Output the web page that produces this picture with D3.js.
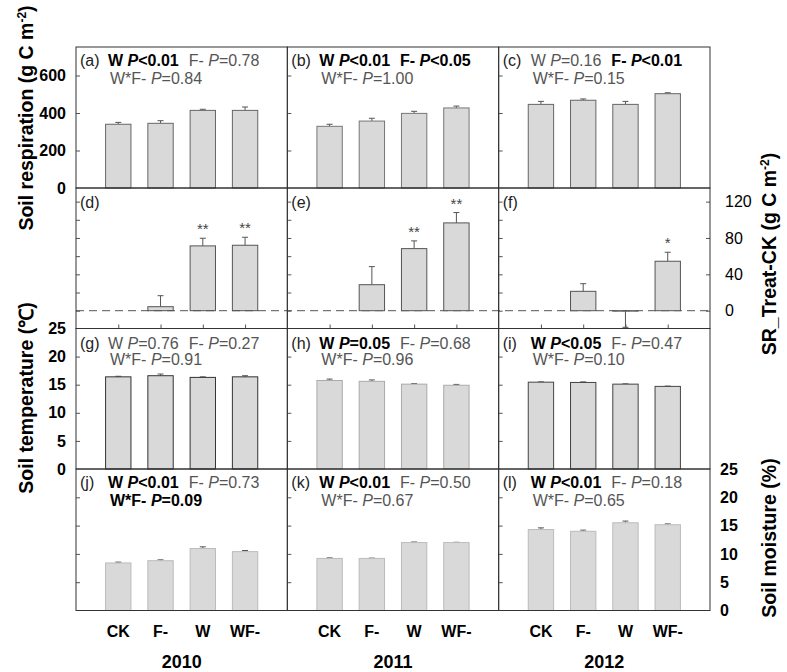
<!DOCTYPE html>
<html><head><meta charset="utf-8">
<script src="https://cdn.jsdelivr.net/npm/d3@7"></script>
<style>
body{margin:0;background:#fff;}
text{font-family:Arial,"Liberation Sans",sans-serif;}
</style></head>
<body><svg id="c" width="787" height="672"></svg>
<script>
const categories = ["CK","F-","W","WF-"];
const years = ["2010","2011","2012"];
const panelLetters = [["(a)","(b)","(c)"],["(d)","(e)","(f)"],["(g)","(h)","(i)"],["(j)","(k)","(l)"]];
const factorNames = ["W","F-","W*F-"];

// Soil respiration (g C m-2)
const srMean = [[340,345,414,414],[329,357,398,427],[446,468,446,503]];
const srErr  = [[10,14,6,18],[11,15,11,10],[16,7,16,5]];
const srStats = [["<0.01","=0.78","=0.84"],["<0.01","<0.05","=1.00"],["=0.16","<0.01","=0.15"]];
const srBold  = [[true,false,false],[true,true,false],[false,true,false]];
const srTicks = [0,200,400,600];

// SR_Treat-CK (g C m-2)
const diffMean = [[null,4.4,71.3,72],[null,28.6,68.3,96.6],[null,21.3,-0.5,54.4]];
const diffErr  = [[null,12.1,8.4,8.8],[null,19.9,8.5,11.4],[null,8.4,17.8,9.9]];
const diffSig  = [["","","**","**"],["","","**","**"],["","","","*"]];
const diffTicks = [0,40,80,120];
const diffMinorTicks = [-20,0,20,40,60,80,100,120];

// Soil temperature (°C)
const tempMean = [[16.4,16.6,16.3,16.4],[15.75,15.6,15.1,14.9],[15.45,15.4,15.1,14.7]];
const tempErr  = [[0.1,0.3,0.1,0.2],[0.25,0.25,0.1,0.15],[0.05,0.1,0.05,0.05]];
const tempStats = [["=0.76","=0.27","=0.91"],["=0.05","=0.68","=0.96"],["<0.05","=0.47","=0.10"]];
const tempBold  = [[false,false,false],[true,false,false],[true,false,false]];
const tempTicks = [0,5,10,15,20,25];

// Soil moisture (%)
const moistMean = [[8.4,8.8,10.95,10.4],[9.2,9.2,12.0,12.0],[14.3,14.0,15.5,15.15]];
const moistErr  = [[0.15,0.15,0.3,0.2],[0.1,0.05,0.1,0.05],[0.3,0.2,0.3,0.15]];
const moistStats = [["<0.01","=0.73","=0.09"],["<0.01","=0.50","=0.67"],["<0.01","=0.18","=0.65"]];
const moistBold  = [[true,false,true],[true,false,false],[true,false,false]];
const moistTicks = [0,5,10,15,20,25];

// ---- layout ----
const svg = d3.select("#c");
const L = 76, R = 710;
const rowY = [47, 188, 328.5, 469, 610.5];
const colW = (R - L) / 3;
const colX = [0,1,2].map(i => L + i*colW);

const rowDefs = [
  {mean: srMean, err: srErr, domain:[0,752], ticks: srTicks, stats: srStats, bold: srBold},
  {mean: diffMean, err: diffErr, domain:[-19.6,135], ticks: diffMinorTicks, sig: diffSig},
  {mean: tempMean, err: tempErr, domain:[0,25], ticks: tempTicks, stats: tempStats, bold: tempBold},
  {mean: moistMean, err: moistErr, domain:[0,25], ticks: moistTicks, stats: moistStats, bold: moistBold}
];
const strokes = [["#666","#777","#666"],["#555","#555","#555"],["#333","#aaa","#444"],["#bbb","#bbb","#bbb"]];
const line1Off = [18.5, 20, 20, 18.5];

const yScales = rowDefs.map((d,r) => d3.scaleLinear().domain(d.domain).range([rowY[r+1], rowY[r]]));
const xScales = colX.map(x0 => d3.scalePoint().domain(categories).range([x0 + colW/5, x0 + 4*colW/5]));
const barW = 0.6 * colW / 5;

rowDefs.forEach((def, r) => {
  const y = yScales[r];
  for (let c = 0; c < 3; c++) {
    const x = xScales[c];
    const x0 = colX[c];
    const g = svg.append("g");
    const ax = g.append("g").attr("transform", `translate(${x0},0)`)
      .call(d3.axisRight(y).tickValues(def.ticks.filter(t => t > def.domain[0] && t < def.domain[1])).tickSize(4).tickFormat(""));
    ax.select(".domain").remove();
    ax.selectAll("line").attr("stroke","#555");

    if (r === 1 && c === 0) {
      svg.append("line").attr("x1", L).attr("x2", R).attr("y1", y(0)).attr("y2", y(0))
        .attr("stroke","#555").attr("stroke-width",1).attr("stroke-dasharray","8,5");
    }

    const data = categories.map((cat,i) => ({cat, v: def.mean[c][i], e: def.err[c][i], s: def.sig ? def.sig[c][i] : ""}))
      .filter(d => d.v !== null);
    data.forEach(d => {
      const end = d.v >= 0 ? d.v + d.e : d.v - d.e;
      const cx = x(d.cat);
      g.append("line").attr("x1",cx).attr("x2",cx).attr("y1",y(d.v)).attr("y2",y(end)).attr("stroke","#555");
      g.append("line").attr("x1",cx-3).attr("x2",cx+3).attr("y1",y(end)).attr("y2",y(end)).attr("stroke","#555");
      if (d.s) {
        g.append("text").attr("x",cx).attr("y",y(end)-4).attr("text-anchor","middle")
          .attr("font-size",15).attr("fill","#444").text(d.s);
      }
    });
    g.selectAll("rect.bar").data(data).join("rect").attr("class","bar")
      .attr("x", d => x(d.cat) - barW/2)
      .attr("width", barW)
      .attr("y", d => Math.min(y(d.v), y(0)))
      .attr("height", d => Math.abs(y(d.v) - y(0)))
      .attr("fill","#d9d9d9").attr("stroke", strokes[r][c]).attr("stroke-width",1);

    const t = g.append("text").attr("x", x0 + 4).attr("y", rowY[r] + line1Off[r]).attr("font-size",16);
    t.append("tspan").attr("fill","#222").text(panelLetters[r][c]);
    if (def.stats) {
      const addStat = (sel, k, first) => {
        const b = def.bold[c][k];
        const col = b ? "#000" : "#555";
        const fw = b ? "bold" : "normal";
        const s1 = sel.append("tspan").attr("fill",col).attr("font-weight",fw).text(factorNames[k] + " ");
        if (first === "abs") s1.attr("x", x0 + 32);
        else if (first === "gap") s1.attr("dx", 10);
        sel.append("tspan").attr("fill",col).attr("font-weight",fw).attr("font-style","italic").text("P");
        sel.append("tspan").attr("fill",col).attr("font-weight",fw).text(def.stats[c][k]);
      };
      addStat(t, 0, "abs");
      addStat(t, 1, "gap");
      const t2 = g.append("text").attr("x", x0 + 34).attr("y", rowY[r] + 36.5).attr("font-size",16);
      addStat(t2, 2, "none");
    }
  }
});

xScales.forEach(x => {
  const a = svg.append("g").attr("transform",`translate(0,${rowY[2]})`).call(d3.axisTop(x).tickSize(4).tickFormat(""));
  a.select(".domain").remove();
  a.selectAll("line").attr("stroke","#555");
});
{
  const a = svg.append("g").attr("transform",`translate(${R},0)`).call(d3.axisLeft(yScales[1]).tickValues(diffTicks).tickSize(4).tickFormat(""));
  a.select(".domain").remove(); a.selectAll("line").attr("stroke","#555");
}

for (let r = 0; r < 4; r++) for (let c = 0; c < 3; c++) {
  svg.append("rect").attr("x", colX[c]).attr("y", rowY[r]).attr("width", colW).attr("height", rowY[r+1]-rowY[r])
    .attr("fill","none").attr("stroke","#333").attr("stroke-width",1);
}

[[0, srTicks],[2, tempTicks]].forEach(([r, ticks]) => {
  const a = svg.append("g").attr("transform",`translate(${L},0)`)
    .call(d3.axisLeft(yScales[r]).tickValues(ticks).tickSize(0).tickPadding(10));
  a.select(".domain").remove();
  a.selectAll("text").attr("font-size",16).attr("font-weight","bold").attr("fill","#000")
    .attr("font-family","Arial, 'Liberation Sans', sans-serif");
});
[[1, diffTicks, 15, "normal"],[3, moistTicks, 10, "bold"]].forEach(([r, ticks, pad, fw]) => {
  const a = svg.append("g").attr("transform",`translate(${R},0)`)
    .call(d3.axisRight(yScales[r]).tickValues(ticks).tickSize(0).tickPadding(pad));
  a.select(".domain").remove();
  a.selectAll("text").attr("font-size",16).attr("font-weight",fw).attr("fill","#000")
    .attr("font-family","Arial, 'Liberation Sans', sans-serif");
});

xScales.forEach((x, c) => {
  categories.forEach(cat => {
    svg.append("text").attr("x", x(cat)).attr("y", 636.5).attr("text-anchor","middle")
      .attr("font-size",16).attr("font-weight","bold").text(cat);
  });
  svg.append("text").attr("x", colX[c] + colW/2).attr("y", 668).attr("text-anchor","middle")
    .attr("font-size",18).attr("font-weight","bold").text(years[c]);
});

function vtitle(x, y, parts) {
  const t = svg.append("text").attr("transform",`translate(${x},${y}) rotate(-90)`)
    .attr("text-anchor","middle").attr("font-size",19.5).attr("font-weight","bold");
  parts.forEach(p => {
    const s = t.append("tspan").text(p.t);
    if (p.sup) s.attr("baseline-shift","super").attr("font-size",12);
  });
}
vtitle(33, 118, [{t:"Soil respiration (g C m"},{t:"-2",sup:true},{t:")"}]);
vtitle(33, 398, [{t:"Soil temperature (℃)"}]);
vtitle(776, 254, [{t:"SR_Treat-CK (g C m"},{t:"-2",sup:true},{t:")"}]);
vtitle(776, 538, [{t:"Soil moisture (%)"}]);
</script></body></html>
